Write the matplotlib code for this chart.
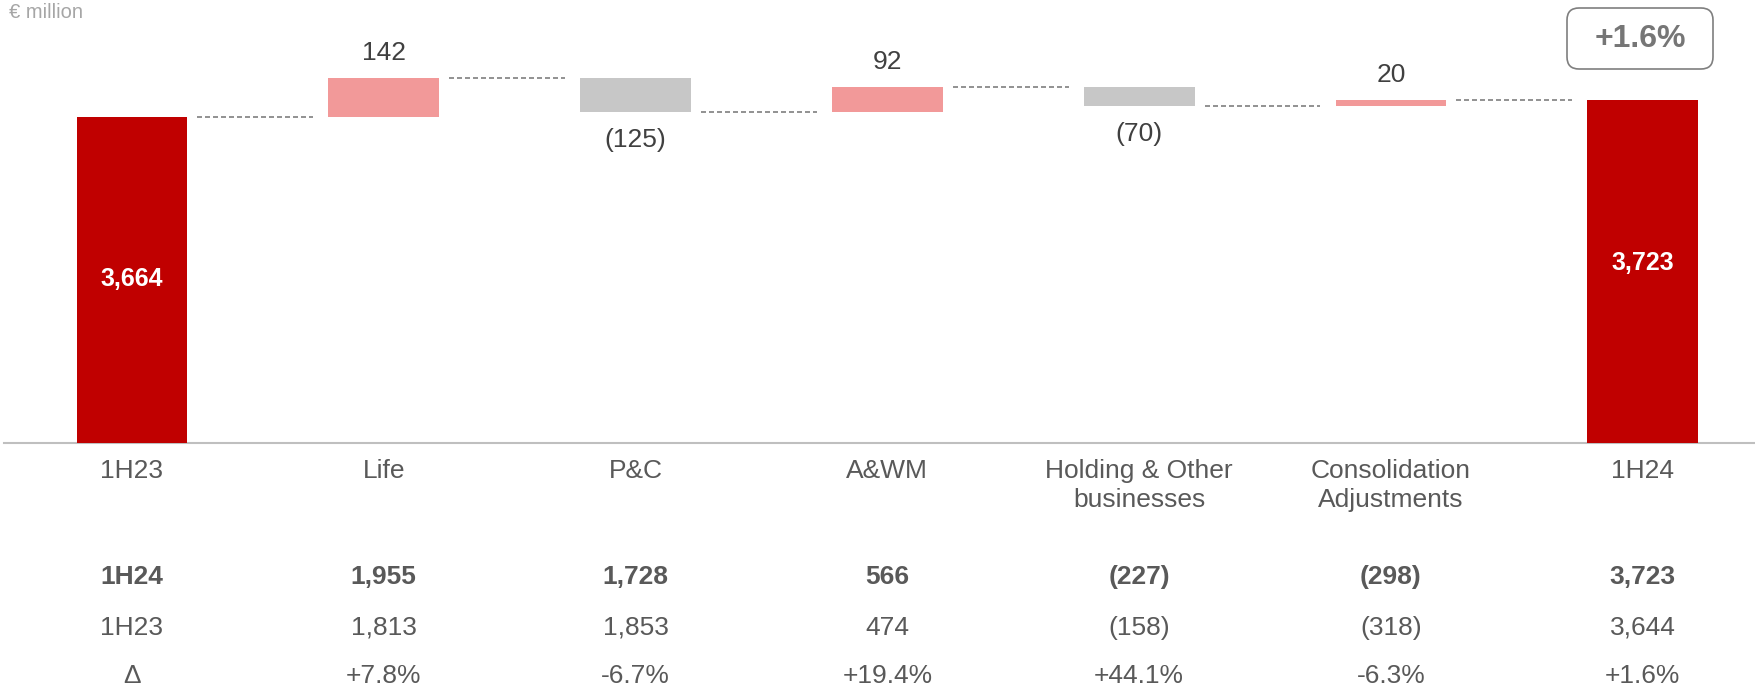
import numpy as np
import matplotlib.pyplot as plt
from matplotlib.patches import FancyBboxPatch

# categories along the x axis
cats = ['1H23', 'Life', 'P&C', 'A&WM', 'Holding & Other\nbusinesses',
        'Consolidation\nAdjustments', '1H24']

# waterfall values (€ million)
start_val = 3664
steps = [142, -125, 92, -70, 20]
end_val = 3723
axis_base = 2477  # value axis is cut at this level

# table under the chart
row_names = ['1H24', '1H23', 'Δ']
row_1h24 = [1955, 1728, 566, -227, -298, 3723]
row_1h23 = [1813, 1853, 474, -158, -318, 3644]
row_delta = [7.8, -6.7, 19.4, 44.1, -6.3, 1.6]
total_change = '+1.6%'

RED, PINK, GREY = '#c00000', '#f29999', '#c7c7c7'
LBL = '#404040'
TAB = '#595959'
plt.rcParams['font.family'] = ['Liberation Sans', 'DejaVu Sans']


def fmt(v):
    return f'({abs(v):,})' if v < 0 else f'{v:,}'


fig = plt.figure(figsize=(17.56, 6.86), dpi=100)
ax = fig.add_axes([0, 0, 1, 1])
ax.set_xlim(-0.524, 6.45)
ax.set_ylim(1593, 4088)
ax.axis('off')

w = 0.44
ends = start_val + np.cumsum(steps)
begins = np.concatenate([[start_val], ends[:-1]])

# total bars
for xi, v in [(0, start_val), (len(cats) - 1, end_val)]:
    ax.bar(xi, v - axis_base, bottom=axis_base, width=w, color=RED, zorder=2)
    ax.text(xi, v - 590, f'{v:,}', color='white', fontsize=18, weight='bold',
            ha='center', va='center', zorder=3)

# step bars
for i, (d, b) in enumerate(zip(steps, begins)):
    xi = i + 1
    lo, hi = min(b, b + d), max(b, b + d)
    ax.bar(xi, hi - lo, bottom=lo, width=w, color=PINK if d > 0 else GREY, zorder=2)
    if d > 0:
        ax.annotate(fmt(d), (xi, hi), xytext=(0, 18), textcoords='offset points',
                    ha='center', va='center', fontsize=19, color=LBL)
    else:
        ax.annotate(fmt(d), (xi, lo), xytext=(0, -20), textcoords='offset points',
                    ha='center', va='center', fontsize=19, color=LBL)

# dashed connectors
levels = [start_val] + list(ends)
for i in range(len(cats) - 1):
    ax.plot([i + w / 2 + 0.04, i + 1 - w / 2 - 0.06], [levels[i]] * 2,
            ls=(0, (3, 1.8)), color='#7f7f7f', lw=1.2, zorder=1)

ax.axhline(axis_base, xmin=4 / 1756, color='#bfbfbf', lw=1.5, zorder=1)

tr = ax.get_xaxis_transform()
for i, c in enumerate(cats):
    ax.text(i, 0.331, c, transform=tr, ha='center', va='top', fontsize=19,
            color=TAB, linespacing=1.25)

# table rows
rows = [
    ([fmt(v) for v in row_1h24], 0.159, 'bold'),
    ([fmt(v) for v in row_1h23], 0.085, 'normal'),
    ([f'{v:+.1f}%' for v in row_delta], 0.015, 'normal'),
]
for name, (vals, y, wt) in zip(row_names, rows):
    ax.text(0, y, name, transform=tr, ha='center', va='center', fontsize=19,
            color=TAB, weight=wt)
    for i, s in enumerate(vals):
        ax.text(i + 1, y, s, transform=tr, ha='center', va='center', fontsize=19,
                color=TAB, weight=wt)

fig.text(9 / 1756, 1 - 12 / 686, '€ million', ha='left', va='center',
         fontsize=14.5, color='#a6a6a6')

# growth badge
box = FancyBboxPatch((15.67, 6.17), 1.46, 0.61, boxstyle='round,pad=0,rounding_size=0.12',
                     transform=fig.dpi_scale_trans, fc='white', ec='#7f7f7f', lw=1.2)
fig.patches.append(box)
fig.text(16.40 / 17.56, 6.475 / 6.86, total_change, ha='center', va='center',
         fontsize=23, weight='bold', color='#767676')

fig.savefig('out.png', dpi=100)
